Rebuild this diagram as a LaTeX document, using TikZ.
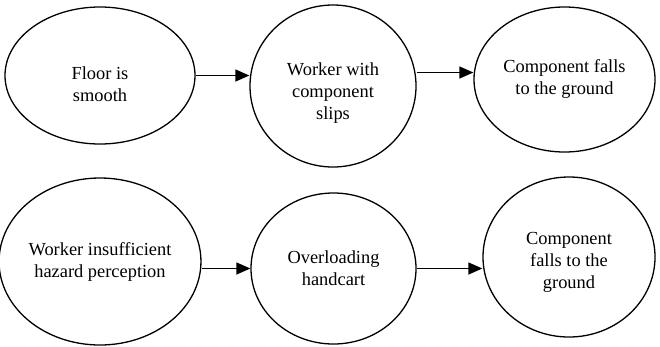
\documentclass[tikz,border=0pt]{standalone}
\usepackage{fontspec}
\setmainfont{Liberation Serif}
\usepackage{tikz}
\usetikzlibrary{arrows.meta,shapes.geometric}

\tikzset{
  event/.style={draw,ellipse,line width=1.3pt,inner sep=0pt,align=center,
    font=\fontsize{18.4}{22}\selectfont},
  cause/.style={-{Triangle[length=14pt,width=12pt]},line width=1.3pt}
}

\begin{document}
\begin{tikzpicture}[x=1pt,y=1pt]
\useasboundingbox (0,0) rectangle (660,-346);

% First chain
\node[event,minimum width=190,minimum height=137,text height=53pt] (floor) at (100,-75.5) {Floor is\\smooth};
\node[event,minimum width=166,minimum height=162,text height=70pt] (slip) at (333,-86) {Worker with\\component\\slips};
\node[event,minimum width=181,minimum height=145] (fall) at (564.5,-79.5) {Component falls\\to the ground};
\coordinate (upper) at (0,-72.5);

% Second chain
\node[event,minimum width=190,minimum height=167] (hazard) at (100,-261.5) {Worker insufficient\\hazard perception};
\node[event,minimum width=165,minimum height=151] (cart) at (333.5,-268.5) {Overloading\\handcart};
\node[event,minimum width=172,minimum height=160,text height=67pt] (drop) at (569,-257) {Component\\falls to the\\ground};

% Arrows
\draw[cause] (floor.east) -- (floor.east -| slip.west);
\draw[cause] (slip.east |- upper) -- (fall.west |- upper);
\draw[cause] (hazard.east |- cart.west) -- (cart.west);
\draw[cause] (cart.east) -- (cart.east -| drop.west);
\end{tikzpicture}
\end{document}
